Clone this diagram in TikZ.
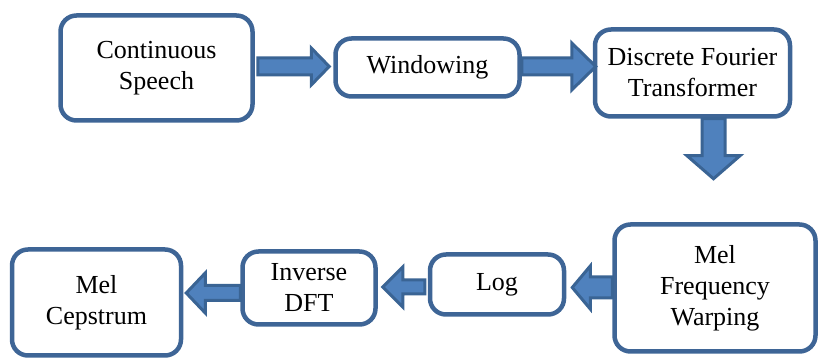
\documentclass[tikz,border=0pt]{standalone}
\usepackage{fontspec}
\setmainfont{Liberation Serif}
\usetikzlibrary{calc}
\definecolor{boxline}{HTML}{3E6596}
\definecolor{arrfill}{HTML}{4F81BD}
\definecolor{arrline}{HTML}{3A6494}
\tikzset{
  stagebox/.style={draw=boxline, line width=4.5pt, rounded corners=16pt, fill=white,
    align=center, inner sep=0pt, font=\fontsize{26}{31}\selectfont},
  blockarr/.style={draw=arrline, fill=arrfill, line width=3pt, line join=miter}
}
% horizontal block arrow: #1 start, #2 tip, #3 shaft half, #4 head half, #5 head length
\newcommand\hblock[5]{%
  \draw[blockarr] let \p1=#1, \p2=#2, \n1={sign(\x2-\x1)} in
    (\x1,\y2+#3) -- (\x2-\n1*#5,\y2+#3) -- (\x2-\n1*#5,\y2+#4) -- (\x2,\y2)
    -- (\x2-\n1*#5,\y2-#4) -- (\x2-\n1*#5,\y2-#3) -- (\x1,\y2-#3) -- cycle;}
\newcommand\vblock[5]{%
  \draw[blockarr] let \p1=#1, \p2=#2, \n1={sign(\y2-\y1)} in
    (\x2+#3,\y1) -- (\x2+#3,\y2-\n1*#5) -- (\x2+#4,\y2-\n1*#5) -- (\x2,\y2)
    -- (\x2-#4,\y2-\n1*#5) -- (\x2-#3,\y2-\n1*#5) -- (\x2-#3,\y1) -- cycle;}
\begin{document}
\begin{tikzpicture}[x=1pt,y=-1pt]
\useasboundingbox (0,0) rectangle (823,363);
% boxes
\node[stagebox, minimum width=192pt, minimum height=105pt] (cs) at (156.5,68) {Continuous\\Speech};
\node[stagebox, minimum width=184pt, minimum height=58pt] (win) at (427.5,67.5) {Windowing};
\node[stagebox, minimum width=195pt, minimum height=87pt] (dft) at (692.5,73) {Discrete Fourier\\Transformer};
\node[stagebox, minimum width=201pt, minimum height=127pt] (mfw) at (715,288) {Mel\\Frequency\\Warping};
\node[stagebox, minimum width=134pt, minimum height=60pt] (log) at (497,284.5) {Log};
\node[stagebox, minimum width=133pt, minimum height=73pt] (idft) at (309,288) {Inverse\\DFT};
\node[stagebox, minimum width=169pt, minimum height=106pt] (mc) at (96.5,302.5) {Mel\\Cepstrum};
% anchor coordinates for block arrows
\coordinate (a1s) at ($(cs.east)+(3,-1.5)$);
\coordinate (a1t) at ($(win.west)+(-4,-1)$);
\coordinate (a2s) at ($(win.east)+(0,-1)$);
\coordinate (a2t) at ($(dft.west)+(3,-6.5)$);
\coordinate (a3s) at ($(dft.south)+(21,0)$);
\coordinate (a3t) at ($(dft.south)+(21,60)$);
\coordinate (a4s) at ($(mfw.west)+(0,-0.5)$);
\coordinate (a4t) at ($(log.east)+(6,3)$);
\coordinate (a5s) at ($(log.west)+(-3,0)$);
\coordinate (a5t) at ($(idft.east)+(5,-1)$);
\coordinate (a6s) at ($(idft.west)+(0,5)$);
\coordinate (a6t) at ($(mc.east)+(3,-9.5)$);
% block arrows
\hblock{(a1s)}{(a1t)}{8.5pt}{18.5pt}{18pt}
\hblock{(a2s)}{(a2t)}{8.5pt}{23.5pt}{24pt}
\vblock{(a3s)}{(a3t)}{11.5pt}{26.5pt}{23pt}
\hblock{(a4s)}{(a4t)}{10.5pt}{21.5pt}{18pt}
\hblock{(a5s)}{(a5t)}{7pt}{20pt}{20pt}
\hblock{(a6s)}{(a6t)}{7.5pt}{20pt}{19pt}
\end{tikzpicture}
\end{document}
